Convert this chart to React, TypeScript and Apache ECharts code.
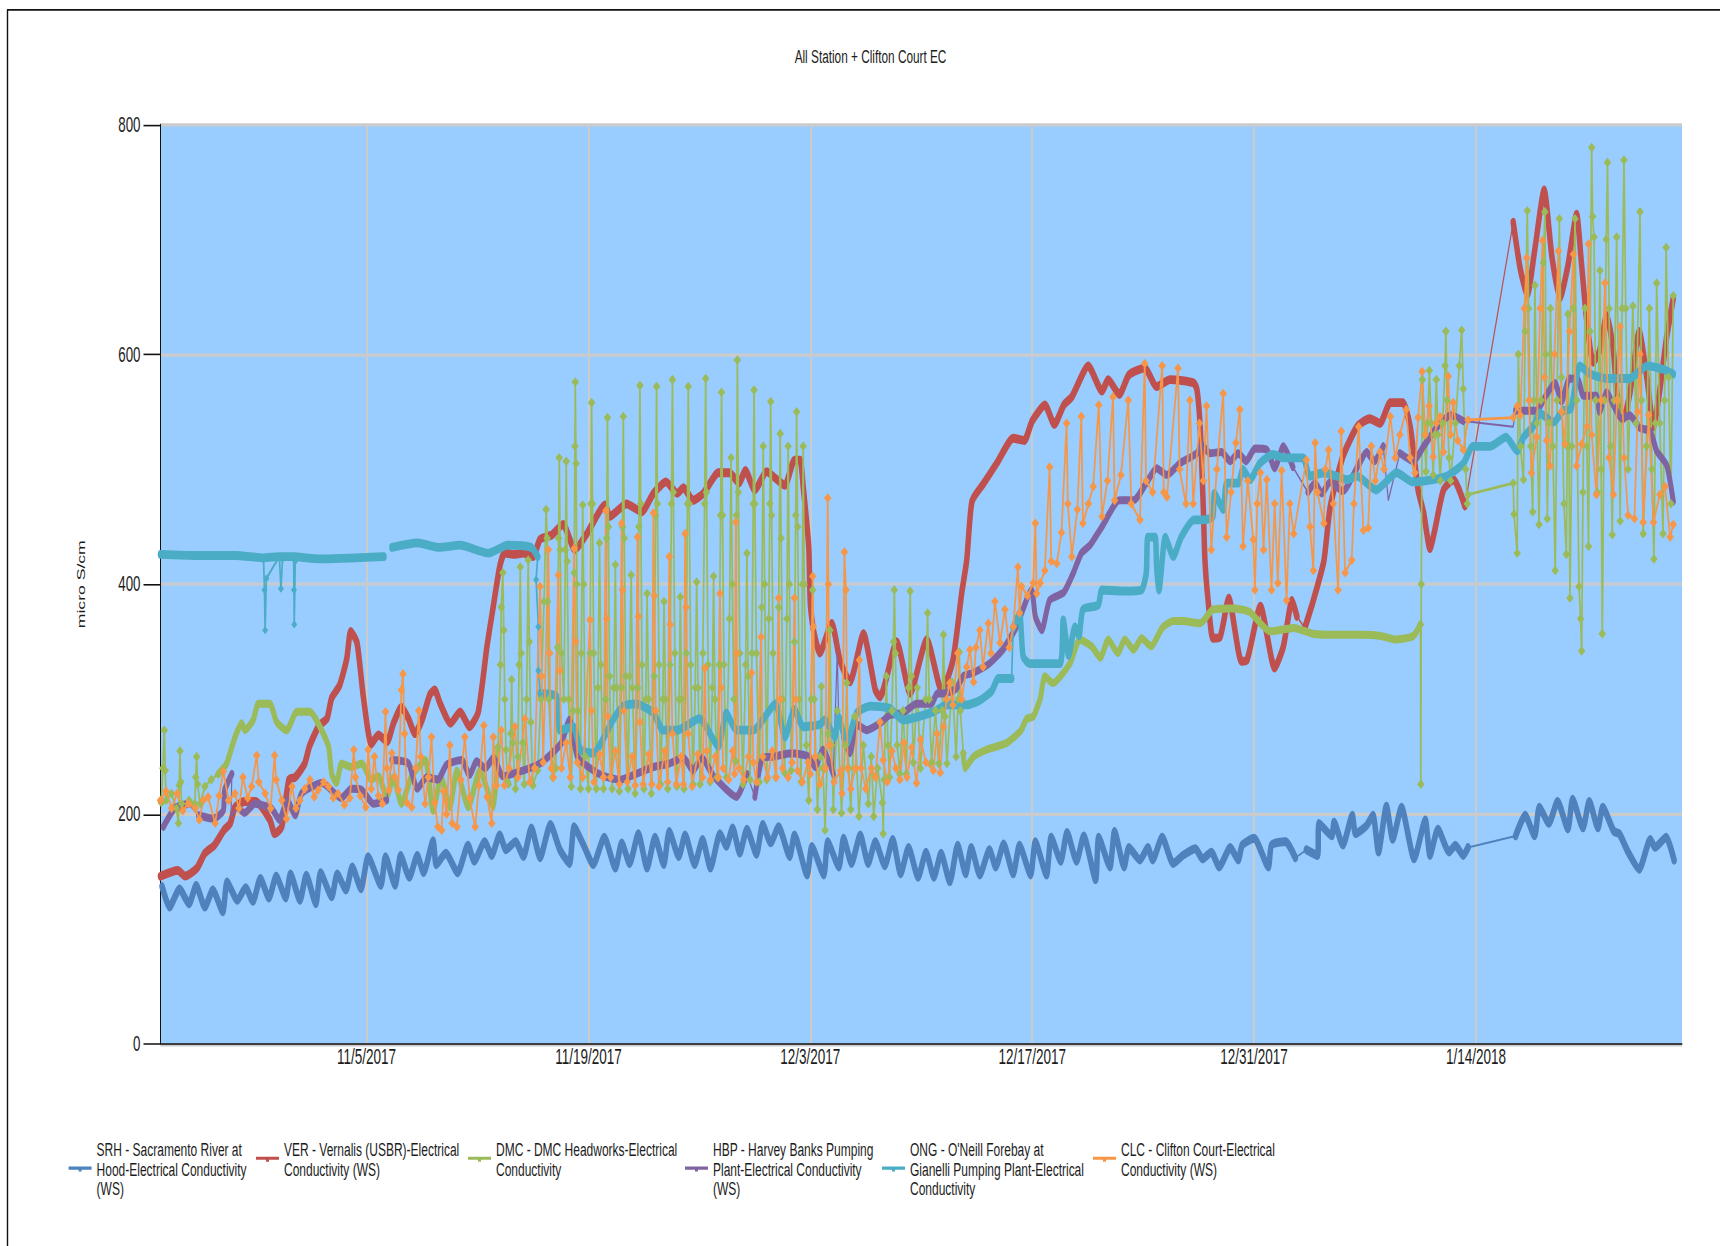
import React, { useEffect, useRef } from "react";
import * as echarts from "echarts";

type P = [number, number | null];

// x = days since 10/23/2017, y = micro S/cm. A null y breaks the line.
const chartTitle = "All Station + Clifton Court EC";
const yTitle = "micro S/cm";
const tickDates = ["11/5/2017", "11/19/2017", "12/3/2017", "12/17/2017", "12/31/2017", "1/14/2018"];
const tickDays = [13, 27, 41, 55, 69, 83];
const yTicks = [0, 200, 400, 600, 800];
const seriesNames = [
  "SRH - Sacramento River at Hood-Electrical Conductivity (WS)",
  "VER - Vernalis (USBR)-Electrical Conductivity (WS)",
  "DMC - DMC Headworks-Electrical Conductivity",
  "HBP - Harvey Banks Pumping Plant-Electrical Conductivity (WS)",
  "ONG - O'Neill Forebay at Gianelli Pumping Plant-Electrical Conductivity",
  "CLC - Clifton Court-Electrical Conductivity (WS)",
];
const legendLabels = [
  "SRH - Sacramento River at\nHood-Electrical Conductivity\n(WS)",
  "VER - Vernalis (USBR)-Electrical\nConductivity (WS)",
  "DMC - DMC Headworks-Electrical\nConductivity",
  "HBP - Harvey Banks Pumping\nPlant-Electrical Conductivity\n(WS)",
  "ONG - O'Neill Forebay at\nGianelli Pumping Plant-Electrical\nConductivity",
  "CLC - Clifton Court-Electrical\nConductivity (WS)",
];
const colors = ["#4F81BD", "#C0504D", "#9BBB59", "#8064A2", "#4BACC6", "#F79646"];

const SRH: P[] = [[0.1,137],[0.57,119],[1.2,135],[1.8,122],[2.25,138],[2.8,119],[3.3,134],[3.93,115],[4.2,141],[4.85,125],[5.37,136],[5.83,124],[6.3,144],[6.84,127],[7.3,146],[7.9,127],[8.2,148],[8.8,125],[9.2,147],[9.8,122],[10.1,149],[10.8,128],[11.15,148],[11.7,134],[12.1,154],[12.65,135],[13.1,163],[13.9,138],[14.2,163],[14.8,138],[15.15,164],[15.7,145],[16.2,164],[16.6,149],[17.2,177],[17.4,156],[18,166],[18.75,149],[19.4,173],[19.8,159],[20.45,176],[20.9,164],[21.4,182],[21.8,169],[22.4,176],[22.9,163],[23.4,188],[23.95,162],[24.6,191],[25.2,169],[25.8,157],[26.1,189],[26.7,173],[27.3,156],[28,180],[28.7,153],[29.1,175],[29.6,157],[30.15,183],[30.7,153],[31.2,180],[31.75,156],[32.1,185],[32.7,163],[33.1,182],[33.7,156],[34.2,178],[34.7,153],[35.3,183],[35.7,172],[36.1,188],[36.55,166],[37,187],[37.6,165],[38,191],[38.5,175],[39,189],[39.7,163],[40,182],[40.8,147],[41.1,172],[41.85,147],[42.1,176],[42.8,154],[43.1,179],[43.6,157],[44.15,182],[44.65,157],[45.1,176],[45.7,155],[46.2,178],[46.7,148],[47.2,171],[47.8,145],[48.3,167],[48.8,145],[49.25,166],[49.8,141],[50.3,173],[50.8,148],[51.15,171],[51.7,147],[52.3,169],[52.7,154],[53.2,174],[53.8,148],[54.2,173],[54.9,147],[55.2,176],[55.9,147],[56.2,180],[56.8,159],[57.2,184],[57.8,159],[58.25,181],[59,143],[59.2,180],[59.9,154],[60.2,185],[60.8,154],[61.1,171],[61.8,160],[62.3,171],[62.6,160],[63.2,180],[63.9,157],[64.5,164],[65.3,170],[65.75,161],[66.3,167],[66.8,154],[67.5,171],[68,160],[68.25,173],[69,179],[69.9,154],[70.1,173],[71,176],[71.6,162],[71.9,null],[72.3,169],[73,164],[73.1,192],[73.9,181],[74.05,193],[74.6,173],[75.2,199],[75.4,183],[76.1,190],[76.5,199],[76.85,167],[77.35,207],[77.75,178],[78.3,206],[79.1,161],[79.8,195],[80.1,164],[80.6,187],[81.3,167],[81.7,173],[82.2,164],[82.5,171],[84,null],[85.5,181],[86.1,199],[86.7,181],[87,206],[87.6,192],[88.15,211],[88.8,187],[89.1,213],[89.75,188],[90.15,211],[90.7,188],[91,206],[91.7,185],[92.05,183],[92.6,167],[93.3,152],[94,178],[94.3,171],[95,180],[95.5,160]];
const SRH_LINKS: P[] = [[71.6,162],[72.3,169],[72.4,null],[82.5,171],[85.5,181]];

const VER: P[] = [[0,146],[1.1,151],[1.55,146],[2.3,153],[2.8,166],[3.4,173],[4,186],[4.4,192],[4.7,206],[5.3,211],[6,211],[6.9,195],[7.2,183],[7.65,189],[8.1,230],[8.5,232],[9.1,244],[9.4,259],[10,277],[10.5,283],[10.8,301],[11.3,312],[11.75,335],[12,359],[12.4,349],[12.8,302],[13.3,261],[13.75,269],[14.3,263],[14.7,279],[15.2,293],[15.65,283],[16.05,270],[16.5,282],[17,304],[17.3,308],[17.65,296],[18.3,279],[18.9,289],[19.5,276],[20.05,289],[20.6,346],[21,381],[21.4,415],[21.7,427],[22.26,426],[22.9,427],[23.5,424],[23.95,439],[24.7,443],[25.4,452],[26.15,430],[26.9,444],[28.05,469],[28.35,459],[29.4,470],[30.36,463],[31.1,479],[31.9,489],[32.6,479],[33,484],[33.6,473],[34.25,479],[35.2,497],[35.9,497],[36.5,488],[36.9,499],[37.5,482],[38.25,498],[38.9,491],[39.4,486],[40,508],[40.35,508],[40.55,485],[40.9,433],[41,383],[41.2,360],[41.6,340],[42.35,366],[42.87,334],[43.5,315],[44.35,357],[45.1,308],[45.4,302],[46.45,350],[47.3,305],[48.35,352],[49.3,307],[50,334],[50.55,392],[50.87,421],[51.2,472],[51.9,487],[52.8,506],[53.8,527],[54.5,525],[55,542],[55.8,556],[56.4,539],[57,556],[57.5,563],[58.54,590],[59.4,568],[59.8,578],[60.5,565],[61.1,582],[62.1,588],[62.85,572],[63.7,578],[65.2,575],[65.4,569],[65.6,537],[65.8,465],[65.9,421],[66.1,386],[66.4,353],[66.85,354],[67.4,388],[68.2,333],[68.55,334],[69.4,381],[70.3,327],[70.85,346],[71.4,386],[71.7,372],[71.95,null],[72.2,362],[72.74,386],[73.4,420],[73.8,467],[74.6,511],[75.5,537],[76.3,544],[76.95,540],[77.6,558],[78.4,558],[78.85,537],[79.15,505],[79.35,482],[79.7,462],[80.1,431],[80.4,447],[80.95,482],[81.6,491],[82.3,468],[84,null],[85.35,715],[85.8,674],[86.24,652],[86.7,690],[87.3,743],[87.8,684],[88.3,649],[88.8,677],[89.35,722],[89.65,680],[90,628],[90.4,593],[90.8,603],[91.25,634],[91.67,603],[91.9,565],[92.3,544],[92.7,565],[93.3,620],[93.8,578],[94.2,537],[94.6,569],[95,612],[95.45,649]];
const VER_LINKS: P[] = [[71.7,372],[72.2,362],[72.3,null],[82.3,468],[85.35,715]];

const DMC: P[] = [[3.65,235],[4.17,244],[4.7,267],[5.12,279],[5.33,273],[5.85,282],[6.17,296],[6.9,296],[7.33,280],[7.96,273],[8.6,289],[9.43,289],[9.95,279],[10.6,259],[10.8,235],[11.1,227],[11.43,244],[12.06,241],[12.7,244],[13.3,230],[13.75,233],[14.27,215],[14.7,232],[15.2,209],[15.85,233],[16.7,247],[17.2,203],[17.7,232],[18.26,206],[18.7,238],[19.42,206],[20.15,238],[21,206],[21.3,258],[21.4,null],[50.65,253],[50.76,240],[51.3,250],[52.1,256],[53.4,262],[54.3,273],[54.65,283],[55.07,285],[55.5,300],[55.8,320],[56.3,314],[57.38,331],[58,352],[58.75,346],[59.3,336],[59.8,352],[60.4,340],[60.85,352],[61.4,343],[61.9,353],[62.5,346],[63.2,362],[63.9,368],[64.5,368],[65.6,366],[66.4,378],[67.7,379],[68.7,376],[70,359],[71.5,362],[72.7,357],[74.2,356],[75.9,356],[77,355],[77.9,352],[79.05,355],[79.5,365]];
const DMC_FINE: P[] = [[0.05,210],[0.15,240],[0.24,273],[0.3,238],[0.35,212],[0.7,218],[1,205],[1.13,192],[1.18,225],[1.23,255],[1.28,228],[1.33,209],[1.8,212],[2.17,209],[2.22,232],[2.28,250],[2.34,226],[2.5,209],[2.8,224],[3.2,230],[3.65,235],[3.7,null],
[21.3,258],[21.45,330],[21.5,380],[21.6,410],[21.66,360],[21.72,300],[21.8,256],[21.9,228],[21.95,226],[22.1,270],[22.16,317],[22.22,262],[22.4,222],[22.55,250],[22.62,330],[22.7,415],[22.76,340],[22.85,262],[22.95,226],[23.1,300],[23.2,421],[23.27,350],[23.36,280],[23.5,225],[23.8,238],[24,300],[24.2,385],[24.33,465],[24.4,440],[24.42,385],[24.5,300],[24.75,232],[24.95,240],[25.05,345],[25.12,440],[25.16,510],[25.22,430],[25.3,340],[25.45,300],[25.55,430],[25.6,507],[25.66,420],[25.75,300],[25.92,224],[26.03,290],[26.1,410],[26.15,520],[26.17,576],[26.22,505],[26.27,400],[26.35,290],[26.5,222],[26.55,340],[26.64,469],[26.7,400],[26.8,250],[27,222],[27.1,340],[27.16,470],[27.2,558],[27.26,470],[27.33,340],[27.5,222],[27.6,310],[27.7,436],[27.78,330],[27.95,222],[28.08,300],[28.15,440],[28.2,545],[28.26,450],[28.33,320],[28.5,222],[28.6,310],[28.7,417],[28.78,310],[28.95,220],[29.08,310],[29.15,450],[29.2,546],[29.26,440],[29.35,320],[29.5,222],[29.6,320],[29.7,408],[29.78,310],[29.95,218],[30.1,310],[30.18,450],[30.25,573],[30.3,470],[30.38,330],[30.5,222],[30.62,300],[30.7,392],[30.8,300],[30.97,218],[31.15,320],[31.24,460],[31.3,572],[31.35,470],[31.45,330],[31.55,226],[31.7,300],[31.77,385],[31.86,300],[32,222],[32.15,330],[32.24,470],[32.3,578],[32.36,480],[32.45,340],[32.58,224],[32.72,300],[32.8,389],[32.88,300],[33.03,222],[33.17,340],[33.25,470],[33.3,572],[33.36,470],[33.45,330],[33.6,226],[33.74,310],[33.83,402],[33.92,310],[34.05,226],[34.22,340],[34.33,470],[34.4,579],[34.45,480],[34.55,330],[34.68,228],[34.82,310],[34.9,407],[34.98,300],[35.12,232],[35.25,330],[35.34,460],[35.4,567],[35.46,460],[35.55,330],[35.7,232],[35.9,370],[36,510],[36.08,400],[36.18,300],[36.3,246],[36.34,460],[36.4,595],[36.46,480],[36.55,340],[36.75,226],[36.92,330],[37,427],[37.08,320],[37.2,230],[37.32,340],[37.4,470],[37.45,569],[37.5,470],[37.6,340],[37.78,228],[37.94,380],[38.03,520],[38.12,400],[38.25,230],[38.38,370],[38.45,470],[38.5,559],[38.56,460],[38.65,340],[38.82,232],[39,380],[39.1,531],[39.16,440],[39.26,300],[39.38,236],[39.52,370],[39.6,520],[39.68,400],[39.8,238],[40,350],[40.08,460],[40.14,550],[40.2,450],[40.3,300],[40.42,228],[40.5,400],[40.55,520],[40.62,400],[40.75,260],[40.9,212],[41.05,300],[41.15,395],[41.25,300],[41.45,204],[41.62,250],[41.7,311],[41.8,240],[41.93,186],[42.12,270],[42.24,360],[42.35,260],[42.45,204],[42.7,290],[42.97,201],[43.2,260],[43.3,314],[43.42,240],[43.55,204],[43.8,285],[44.07,198],[44.35,260],[44.66,209],[44.85,250],[45,198],[45.25,240],[45.55,210],[45.6,183],[45.65,230],[45.8,320],[45.9,260],[46,232],[46.15,290],[46.25,350],[46.3,395],[46.37,340],[46.48,260],[46.65,235],[46.85,290],[47.05,235],[47.2,310],[47.3,394],[47.38,320],[47.5,245],[47.75,310],[47.95,240],[48.28,300],[48.4,375],[48.5,300],[48.65,245],[48.9,290],[49.1,244],[49.32,290],[49.4,356],[49.5,285],[49.62,244],[49.95,315],[50.2,250],[50.33,300],[50.4,341],[50.47,290],[50.65,253],[50.7,null],
[79.5,365],[79.52,226],[79.55,400],[79.62,578],[79.75,530],[79.85,498],[79.95,540],[80.06,586],[80.18,540],[80.3,495],[80.4,530],[80.5,578],[80.6,530],[80.75,490],[80.9,540],[81.05,590],[81.1,620],[81.18,560],[81.3,510],[81.4,490],[81.7,540],[81.95,590],[82.1,621],[82.2,570],[82.35,500],[82.45,470],[82.5,478],[85.35,488],[85.4,461],[85.6,427],[85.67,600],[85.8,520],[86,491],[86.1,620],[86.24,725],[86.32,640],[86.45,520],[86.58,463],[86.65,560],[86.72,660],[86.85,540],[86.98,452],[87.1,560],[87.25,680],[87.35,724],[87.42,600],[87.5,457],[87.6,540],[87.7,640],[87.85,520],[88,412],[88.12,560],[88.26,718],[88.4,580],[88.55,470],[88.7,426],[88.76,520],[88.8,635],[88.87,520],[88.93,388],[89.05,520],[89.15,640],[89.25,718],[89.36,560],[89.5,398],[89.6,370],[89.67,342],[89.75,480],[89.88,640],[90,520],[90.1,433],[90.2,620],[90.3,780],[90.36,720],[90.45,702],[90.55,560],[90.65,480],[90.82,673],[90.9,500],[90.97,357],[91.1,560],[91.22,700],[91.3,767],[91.4,640],[91.5,520],[91.6,443],[91.72,560],[91.88,702],[92,560],[92.1,455],[92.22,640],[92.34,769],[92.45,640],[92.6,500],[92.9,642],[93.1,540],[93.35,724],[93.45,560],[93.55,444],[93.75,520],[93.94,640],[94.1,500],[94.23,422],[94.32,540],[94.4,662],[94.6,540],[94.8,444],[94.9,560],[95,693],[95.15,580],[95.3,470],[95.45,651]];

const HBP: P[] = [[0.18,189],[0.9,205],[1.75,209],[2.05,null],[2.4,199],[3.33,196],[3.96,203],[4.05,221],[4.5,235],[4.6,null],[4.9,206],[5.3,201],[5.96,209],[7,205],[7.5,195],[8,212],[8.5,199],[8.9,218],[10.2,227],[11.4,214],[12.05,222],[12.7,221],[13.43,209],[14.27,212],[14.45,null],[14.6,247],[15.65,244],[16.2,222],[16.8,232],[17.5,230],[18.05,243],[19,247],[19.5,234],[19.95,246],[20.5,240],[21,249],[21.6,233],[22.9,238],[23.95,244],[24.7,253],[25.3,262],[25.8,282],[26.3,250],[27.3,238],[28,233],[29,230],[30,235],[31.1,241],[32.1,244],[33,249],[33.6,238],[34.15,249],[34.9,233],[36.35,215],[37,235],[37.15,null],[37.5,215],[38,249],[38.65,250],[39.8,253],[40.9,250],[41.3,241],[41.8,256],[42.45,235],[42.6,null],[43.1,267],[43.5,253],[43.93,278],[44.55,273],[45.4,279],[46,286],[46.85,288],[47.7,296],[48.65,296],[49,305],[49.4,305],[50.2,309],[50.65,320],[51.3,323],[52.3,331],[53.2,344],[54,363],[54.96,395],[55.2,372],[55.6,360],[56.1,386],[57,393],[57.6,410],[58.1,427],[58.65,434],[59.4,450],[60.5,473],[61.4,473],[62.2,488],[62.85,501],[63.5,495],[64.3,505],[65.4,514],[65.7,521],[66.2,514],[66.95,515],[67.5,507],[68,514],[68.5,507],[69.05,518],[69.8,517],[70.3,501],[70.85,520],[71.45,502],[71.7,null],[72.4,480],[72.85,488],[73.27,479],[73.8,489],[74.6,481],[75.6,504],[76.1,515],[76.6,507],[77.15,520],[77.3,null],[78.2,514],[79.05,507],[79.7,520],[80.5,536],[81.4,547],[82.2,542],[84,null],[85.5,551],[86.8,551],[87.45,565],[87.98,575],[88.4,559],[88.9,579],[89.45,578],[89.77,564],[90.6,564],[90.8,550],[91.25,567],[91.67,556],[92.2,544],[92.7,547],[93.35,536],[94,533],[94.4,516],[95.05,503],[95.45,472]];
const HBP_LINKS: P[] = [[1.75,209],[2.4,199],[2.5,null],[4.5,235],[4.45,198],[4.9,206],[5,null],[14.27,212],[14.6,247],[14.7,null],[37,235],[37.5,215],[37.6,null],[42.45,235],[42.7,340],[42.78,290],[43.1,267],[43.2,null],[71.45,502],[72.4,480],[72.5,null],[77.15,520],[77.47,473],[78.2,514],[78.3,null],[82.2,542],[85.35,537],[85.5,551]];

const ONG: P[] = [[0,426],[2.33,425],[4.75,425],[6.5,423],[7.5,424],[8.4,424],[10,422],[14.1,424],[14.3,null],[14.6,432],[16.2,436],[17.55,432],[18.9,434],[20.7,427],[21.9,434],[23.4,432],[23.8,424],[23.84,null],[23.95,305],[25,302],[25.2,273],[26.05,276],[26.5,256],[27.3,253],[28.55,282],[29.2,294],[30,296],[31.1,288],[31.7,273],[32.6,273],[34,283],[35.2,259],[35.7,288],[36.35,273],[37.4,273],[38.8,296],[39.4,267],[40,291],[40.55,276],[41.6,278],[41.9,282],[42.55,267],[42.77,285],[43.3,262],[43.93,288],[44.8,294],[46,292],[46.85,282],[48.76,289],[49.6,295],[50.87,295],[51.7,299],[52.45,307],[52.86,318],[53.7,318],[53.75,null],[53.8,362],[54.2,375],[54.43,337],[54.86,331],[56.75,331],[56.96,369],[57.3,338],[57.7,363],[57.95,355],[58.2,378],[59.17,382],[59.4,395],[60.75,394],[61.9,395],[62.2,410],[62.3,441],[62.75,441],[62.85,415],[63,395],[63.4,441],[63.9,424],[64.4,441],[65.2,456],[65.8,456],[66.4,459],[66.5,479],[67.05,465],[67.27,488],[68,488],[68.3,500],[68.75,491],[69.35,505],[70.2,513],[70.85,510],[72.1,510],[72.5,494],[73.4,497],[74.2,494],[74.85,491],[75.5,494],[76.7,482],[78,497],[79,489],[80.3,491],[81.15,494],[82.2,505],[82.8,520],[83.9,520],[84.9,528],[85.6,516],[86,528],[86.7,539],[87,549],[87.9,541],[88.5,551],[89,553],[89.55,590],[90.2,583],[91.25,579],[92.7,579],[93.8,590],[94.8,587],[95.45,583]];
const ONG_FINE: P[] = [[6.5,423],[6.56,395],[6.6,360],[6.68,405],[7.5,424],[7.6,396],[7.7,422],[8.4,424],[8.42,395],[8.44,365],[8.5,420],[8.6,null],[23.8,424],[23.7,404],[23.84,363],[23.84,325],[23.95,305],[24,null],[53.7,318],[53.8,362],[54,null]];

const CLC: P[] = [[0,212],[0.35,220],[0.7,205],[1.05,218],[1.4,203],[1.75,209],[2.2,205],[2.45,195],[2.7,212],[3,215],[3.45,192],[3.7,216],[3.96,237],[4.3,212],[4.7,218],[4.95,205],[5.2,232],[5.5,214],[5.75,224],[6.07,251],[6.2,228],[6.6,218],[6.95,205],[7.2,251],[7.3,230],[7.65,212],[7.95,196],[8.3,224],[8.55,205],[8.8,212],[9.1,222],[9.43,230],[9.7,215],[9.95,221],[10.3,228],[10.6,224],[10.9,214],[11.2,218],[11.6,208],[11.95,214],[12.2,256],[12.3,232],[12.6,216],[12.95,206],[13.1,256],[13.3,222],[13.5,250],[13.75,216],[14,209],[14.2,289],[14.28,240],[14.4,221],[14.6,253],[14.8,232],[15,221],[15.2,308],[15.3,322],[15.4,270],[15.55,210],[15.85,206],[16.1,240],[16.3,290],[16.42,250],[16.7,209],[16.9,232],[17.1,267],[17.3,210],[17.5,189],[17.74,186],[17.85,220],[18.05,200],[18.26,260],[18.4,192],[18.7,189],[18.95,230],[19.2,267],[19.5,214],[19.85,189],[20.1,225],[20.4,277],[20.6,215],[20.9,192],[21,267],[21.2,225],[21.5,273],[21.7,225],[22,240],[22.37,276],[22.55,232],[23,283],[23.3,228],[23.6,240],[23.95,398],[24.05,320],[24.15,245],[24.47,430],[24.55,340],[24.65,240],[24.8,232],[25.1,408],[25.2,325],[25.3,240],[25.6,262],[25.85,232],[26.1,431],[26.2,350],[26.3,245],[26.65,232],[27.1,369],[27.2,290],[27.35,228],[27.7,252],[27.95,232],[28.1,464],[28.15,370],[28.22,285],[28.4,232],[28.7,255],[28.95,226],[29.1,453],[29.15,395],[29.25,290],[29.45,228],[29.75,250],[29.95,225],[30.1,441],[30.15,372],[30.25,280],[30.45,226],[30.8,252],[31,226],[31.1,462],[31.15,390],[31.25,290],[31.45,224],[31.8,255],[32,228],[32.1,424],[32.16,365],[32.3,270],[32.55,226],[32.85,250],[33,226],[33.1,444],[33.16,380],[33.3,270],[33.55,224],[33.9,252],[34.2,232],[34.35,327],[34.45,255],[34.7,230],[35,250],[35.2,232],[35.3,392],[35.38,310],[35.5,240],[35.85,230],[36.1,255],[36.22,235],[36.3,454],[36.36,340],[36.5,240],[36.8,230],[37.1,250],[37.3,323],[37.4,245],[37.6,228],[37.9,354],[38,250],[38.3,232],[38.6,255],[38.85,232],[39,388],[39.1,300],[39.25,240],[39.6,232],[39.85,245],[40,388],[40.08,300],[40.2,238],[40.5,228],[40.85,245],[41,235],[41.15,407],[41.2,363],[41.3,250],[41.6,226],[41.95,240],[42.1,475],[42.14,400],[42.22,260],[42.5,228],[42.9,238],[43,218],[43.15,428],[43.25,395],[43.35,240],[43.55,222],[43.85,240],[44.1,334],[44.2,240],[44.5,222],[44.85,240],[45.1,232],[45.4,280],[45.6,247],[45.85,228],[46.15,255],[46.4,240],[46.65,230],[46.9,262],[47.1,232],[47.4,258],[47.7,227],[47.95,265],[48.3,245],[48.76,238],[49,270],[49.2,236],[49.4,276],[49.6,300],[49.8,314],[50,295],[50.3,340],[50.55,300],[50.87,328],[51.07,343],[51.3,315],[51.45,345],[51.7,360],[51.9,328],[52.23,366],[52.4,340],[52.65,385],[52.97,349],[53.28,378],[53.55,345],[53.8,363],[54.1,415],[54.2,375],[54.33,398],[54.7,390],[55.07,401],[55.2,453],[55.28,392],[55.5,401],[55.8,412],[56.1,502],[56.2,420],[56.55,418],[56.85,445],[57.17,540],[57.25,470],[57.5,424],[57.85,465],[58.1,546],[58.2,453],[58.55,470],[58.85,485],[59.2,556],[59.4,459],[59.75,490],[60.1,563],[60.2,473],[60.6,495],[61.06,560],[61.25,470],[61.8,456],[62.1,592],[62.18,490],[62.6,480],[63.2,590],[63.3,480],[63.5,476],[64.2,588],[64.3,500],[64.7,470],[64.95,560],[65.16,470],[65.55,540],[65.8,490],[66,555],[66.3,430],[66.65,500],[67.05,566],[67.27,441],[67.55,480],[67.85,523],[68.1,552],[68.3,433],[68.6,490],[68.95,439],[69.05,395],[69.2,470],[69.4,497],[69.6,430],[69.8,491],[70.1,395],[70.3,470],[70.5,401],[70.74,499],[71.05,386],[71.26,470],[71.5,444],[72.3,508],[72.53,450],[72.74,412],[72.85,523],[73,480],[73.4,453],[73.5,500],[73.7,517],[74,470],[74.3,395],[74.5,533],[74.74,410],[75.16,421],[75.3,470],[75.6,537],[75.9,447],[76.2,449],[76.4,520],[76.65,490],[76.95,515],[77.2,500],[77.6,546],[77.9,510],[78.2,530],[78.6,552],[78.85,510],[79.15,497],[79.35,545],[79.6,585],[79.8,530],[80.05,555],[80.3,511],[80.5,540],[80.73,546],[80.95,515],[81.25,581],[81.4,530],[81.57,558],[81.85,525],[82.2,517],[82.5,543],[85.35,545],[85.6,555],[85.8,547],[86.05,640],[86.2,684],[86.35,560],[86.5,497],[86.83,528],[87.05,640],[87.2,699],[87.33,580],[87.46,525],[87.67,503],[87.95,600],[88.2,690],[88.4,550],[88.6,522],[88.9,620],[89.15,687],[89.35,503],[89.67,522],[90,537],[90.1,696],[90.3,530],[90.6,478],[90.9,560],[91.14,662],[91.4,510],[91.67,478],[91.9,560],[92.1,624],[92.35,510],[92.6,460],[93,457],[93.2,550],[93.35,600],[93.55,454],[93.9,547],[94.2,454],[94.6,478],[94.93,485],[95.25,441],[95.45,452]];

const X_MIN = 0;
const X_MAX = 96;

export default function App() {
  const ref = useRef<HTMLDivElement>(null);
  useEffect(() => {
    const chart = echarts.init(ref.current!, undefined, { renderer: "svg" });
    const FONT = "'Liberation Sans', Arial, sans-serif";
    const INK = "#1c1c1c";
    const thick = (i: number, data: P[], width = 5.5) => ({
      type: "line", name: seriesNames[i], data, showSymbol: false, silent: true, smooth: 0.2,
      connectNulls: false, itemStyle: { color: colors[i] },
      lineStyle: { color: colors[i], width, join: "round", cap: "round" },
    });
    const fine = (i: number, data: P[], size: any = [7.5, 6]) => ({
      type: "line", name: seriesNames[i], data, showSymbol: true, showAllSymbol: true, silent: true,
      symbol: "diamond", symbolSize: size, connectNulls: false, itemStyle: { color: colors[i] },
      lineStyle: { color: colors[i], width: 1.7 },
    });
    const link = (i: number, data: P[]) => ({
      type: "line", name: seriesNames[i], data, showSymbol: false, silent: true,
      connectNulls: false, itemStyle: { color: colors[i] },
      lineStyle: { color: colors[i], width: 1.2 },
    });
    const legendSpots = [68.6, 256, 468, 685, 882, 1093];
    chart.setOption({
      animation: false,
      title: {
        text: chartTitle, left: 865.5, top: 24, textAlign: "center",
        textStyle: { fontFamily: FONT, fontSize: 11.8, fontWeight: "normal", color: INK },
      },
      grid: {
        left: 160.5, top: 77.8, width: 1521.5, height: 574.7, show: true,
        backgroundColor: "#99CCFF", borderWidth: 0,
      },
      xAxis: {
        type: "value", min: X_MIN, max: X_MAX,
        axisLine: { show: true, onZero: false, lineStyle: { color: "#111", width: 1 } },
        axisTick: { show: false, customValues: tickDays },
        axisLabel: {
          customValues: tickDays, margin: 1, color: INK, fontFamily: FONT, fontSize: 13.5, hideOverlap: false,
          formatter: (v: number) => tickDates[tickDays.indexOf(v)] ?? "",
        },
        splitLine: { show: true, lineStyle: { color: "#cbcbcb", width: 2 } },
      },
      yAxis: {
        type: "value", min: yTicks[0], max: yTicks[yTicks.length - 1], interval: 200,
        name: yTitle, nameLocation: "middle", nameGap: 74, nameRotate: 90,
        nameTextStyle: { fontFamily: FONT, fontSize: 11, color: INK },
        axisLine: { show: true, onZero: false, lineStyle: { color: "#111", width: 1 } },
        axisTick: { show: true, length: 17, lineStyle: { color: "#111", width: 1 } },
        axisLabel: { margin: 20, color: INK, fontFamily: FONT, fontSize: 13.3 },
        splitLine: { show: true, lineStyle: { color: "#cbcbcb", width: 2 } },
      },
      legend: seriesNames.map((name, i) => ({
        data: [name], left: legendSpots[i], top: 712.2, padding: 0, orient: "horizontal",
        itemWidth: 23, itemHeight: 3.2, selectedMode: false,
        icon: "path://M0,0H23V2H13V3.2H10V2H0Z",
        formatter: () => legendLabels[i],
        textStyle: { fontFamily: FONT, fontSize: 12, lineHeight: 12.3, color: INK },
      })),
      graphic: [
        { type: "line", shape: { x1: 7.5, y1: 6.2, x2: 7.5, y2: 779 }, style: { stroke: "#111", lineWidth: 1.4 } },
        { type: "line", shape: { x1: 7, y1: 6.2, x2: 1720, y2: 6.2 }, style: { stroke: "#111", lineWidth: 1 } },
      ],
      series: [
        link(0, SRH_LINKS), thick(0, SRH),
        link(1, VER_LINKS), thick(1, VER),
        fine(2, DMC_FINE), thick(2, DMC, 5),
        link(3, HBP_LINKS), thick(3, HBP, 5),
        fine(4, ONG_FINE, [6, 5]), thick(4, ONG, 5.5),
        fine(5, CLC),
      ],
    });
    return () => chart.dispose();
  }, []);
  // The reference picture was stretched vertically, so the chart is drawn on a shorter sheet and scaled up.
  return (
    <div
      ref={ref}
      style={{
        position: "absolute", left: 0, top: 0, width: 1720, height: 778.75,
        transform: "scaleY(1.6)", transformOrigin: "0 0",
      }}
    />
  );
}
